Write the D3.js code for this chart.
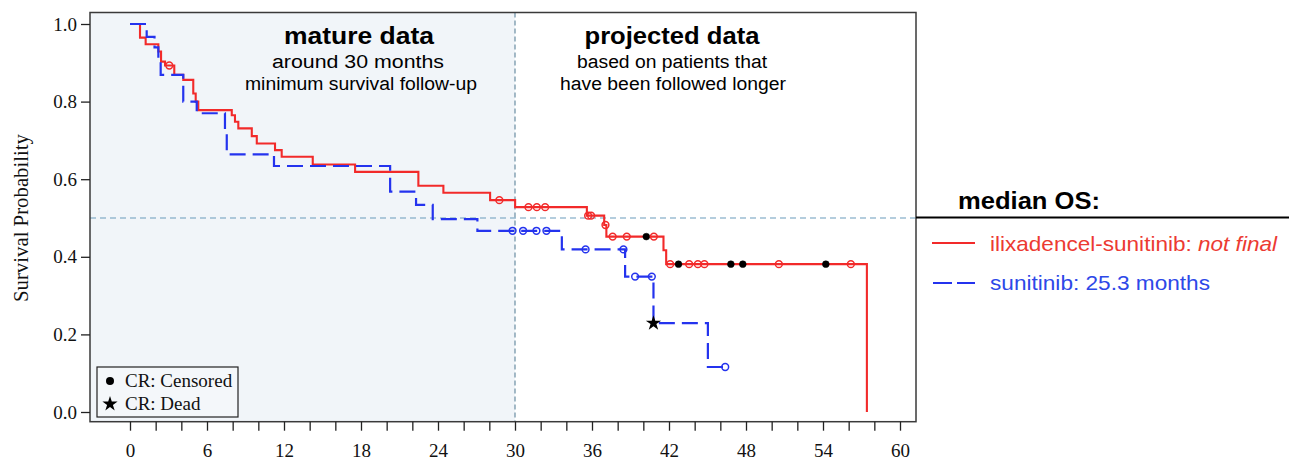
<!DOCTYPE html>
<html lang="en">
<head>
<meta charset="UTF-8"/>
<title>Survival curves</title>
<script src="https://d3js.org/d3.v7.min.js"></script>
<style>
    body { margin: 0; background: #fff; }
    .serif { font-family: "Liberation Serif", "Times New Roman", serif; }
    .sans { font-family: "Liberation Sans", Arial, sans-serif; }
</style>
</head>
<body>
<div id="chart"></div>
<script>
    // step curve: ilixadencel-sunitinib (red)
    var redTimes = [0, 0.78, 1.22, 2.21, 2.42, 2.73, 3.45, 4.15, 4.93, 5.12, 5.32, 7.93, 8.18, 8.44, 9.49, 9.88,
        11.3, 11.82, 14.24, 17.54, 22.47, 24.42, 28.06, 30.01, 35.6, 36.95, 37.12, 41.57, 41.78, 57.42];
    var redSurv = [1.0, 0.965, 0.948, 0.929, 0.903, 0.893, 0.869, 0.856, 0.821, 0.8, 0.778, 0.765, 0.748, 0.731, 0.711, 0.692,
        0.675, 0.658, 0.638, 0.619, 0.583, 0.565, 0.546, 0.528, 0.506, 0.482, 0.452, 0.417, 0.381, 0.0];

    // censored marks, red (1 = CR censored, filled dot)
    var redCensTimes = [3.06, 28.78, 31.05, 31.7, 32.35, 35.7, 35.93, 37.05, 37.61, 38.71, 40.23, 40.82,
        42.09, 42.74, 43.57, 44.25, 44.76, 46.82, 47.75, 50.56, 54.22, 56.17];
    var redCensSurv = [0.893, 0.546, 0.528, 0.528, 0.528, 0.506, 0.506, 0.482, 0.452, 0.452, 0.452, 0.452,
        0.381, 0.381, 0.381, 0.381, 0.381, 0.381, 0.381, 0.381, 0.381, 0.381];
    var redCensCR = [0, 0, 0, 0, 0, 0, 0, 0, 0, 0, 1, 0,
        0, 1, 0, 0, 0, 1, 1, 0, 1, 0];

    // step curve: sunitinib (blue)
    var blueTimes = [0, 1.3, 1.91, 2.21, 2.39, 4.15, 5.2, 7.4, 7.54, 11.22, 20.27, 22.29, 23.59, 27.07,
        33.65, 38.58, 40.79, 45.03, 46.38];
    var blueSurv = [1.0, 0.967, 0.94, 0.905, 0.869, 0.8, 0.77, 0.72, 0.664, 0.634, 0.568, 0.534, 0.497, 0.467,
        0.419, 0.349, 0.229, 0.116, 0.116];

    var blueCensTimes = [29.81, 30.63, 31.67, 32.45, 35.5, 38.45, 39.36, 40.66, 46.38];
    var blueCensSurv = [0.467, 0.467, 0.467, 0.467, 0.419, 0.419, 0.349, 0.349, 0.116];

    // CR death mark
    var deadTimes = [40.79];
    var deadSurv = [0.229];

    var xTicks = d3.range(0, 61, 2);
    var yTicks = [0, 0.2, 0.4, 0.6, 0.8, 1.0];

    var redColor = "#f22a2a";
    var blueColor = "#2433ee";

    var width = 1289, height = 461;
    var frame = {left: 90, right: 916, top: 12.5, bottom: 421.7};

    var x = d3.scaleLinear().domain([0, 60]).range([130, 900]);
    var y = d3.scaleLinear().domain([0, 1]).range([412, 24]);

    var svg = d3.select("#chart").append("svg").attr("width", width).attr("height", height);

    // shaded "mature data" region
    svg.append("rect")
        .attr("x", frame.left).attr("y", frame.top)
        .attr("width", x(30) - frame.left).attr("height", frame.bottom - frame.top)
        .attr("fill", "#f1f5f9");

    // reference lines
    svg.append("line")
        .attr("x1", x(30)).attr("x2", x(30)).attr("y1", frame.top).attr("y2", frame.bottom)
        .attr("stroke", "#6a8ea2").attr("stroke-width", 1.2).attr("stroke-dasharray", "5,3");
    svg.append("line")
        .attr("x1", frame.left).attr("x2", frame.right).attr("y1", y(0.5)).attr("y2", y(0.5))
        .attr("stroke", "#6a9cbc").attr("stroke-width", 1.2).attr("stroke-dasharray", "6,4");

    // curves
    var line = d3.line().curve(d3.curveStepAfter)
        .x(function (d) { return x(d[0]); })
        .y(function (d) { return y(d[1]); });

    svg.append("path")
        .datum(d3.zip(redTimes, redSurv))
        .attr("d", line).attr("fill", "none")
        .attr("stroke", redColor).attr("stroke-width", 2.1);

    svg.append("path")
        .datum(d3.zip(blueTimes, blueSurv))
        .attr("d", line).attr("fill", "none")
        .attr("stroke", blueColor).attr("stroke-width", 2.2)
        .attr("stroke-dasharray", "16,7");

    // censor marks
    svg.selectAll(".rc").data(d3.zip(redCensTimes, redCensSurv, redCensCR)).enter()
        .append("circle")
        .attr("cx", function (d) { return x(d[0]); })
        .attr("cy", function (d) { return y(d[1]); })
        .attr("r", 3.4)
        .attr("fill", function (d) { return d[2] ? "#000" : "none"; })
        .attr("stroke", function (d) { return d[2] ? "#000" : redColor; })
        .attr("stroke-width", function (d) { return d[2] ? 0.5 : 1.5; });

    svg.selectAll(".bc").data(d3.zip(blueCensTimes, blueCensSurv)).enter()
        .append("circle")
        .attr("cx", function (d) { return x(d[0]); })
        .attr("cy", function (d) { return y(d[1]); })
        .attr("r", 3.4)
        .attr("fill", "none")
        .attr("stroke", blueColor).attr("stroke-width", 1.5);

    var star = d3.symbol().type(d3.symbolStar).size(72);
    svg.selectAll(".dead").data(d3.zip(deadTimes, deadSurv)).enter()
        .append("path")
        .attr("d", star)
        .attr("transform", function (d) { return "translate(" + x(d[0]) + "," + y(d[1]) + ")"; })
        .attr("fill", "#000");

    // frame
    svg.append("rect")
        .attr("x", frame.left).attr("y", frame.top)
        .attr("width", frame.right - frame.left).attr("height", frame.bottom - frame.top)
        .attr("fill", "none").attr("stroke", "#3a3a3a").attr("stroke-width", 1.5);

    // axes
    var xAxis = d3.axisBottom(x).tickValues(xTicks).tickSize(9).tickPadding(13)
        .tickFormat(function (d) { return d % 6 === 0 ? d : ""; });
    var gx = svg.append("g").attr("transform", "translate(0," + frame.bottom + ")").call(xAxis);
    gx.select(".domain").remove();
    gx.selectAll("line").attr("stroke", "#222").attr("stroke-width", 1.3);
    gx.selectAll("text").attr("class", "serif").attr("font-size", 19).attr("fill", "#111");

    var yAxis = d3.axisLeft(y).tickValues(yTicks).tickSize(9).tickPadding(4).tickFormat(d3.format(".1f"));
    var gy = svg.append("g").attr("transform", "translate(" + frame.left + ",0)").call(yAxis);
    gy.select(".domain").remove();
    gy.selectAll("line").attr("stroke", "#222").attr("stroke-width", 1.3);
    gy.selectAll("text").attr("class", "serif").attr("font-size", 19).attr("fill", "#111");

    svg.append("text").attr("class", "serif")
        .attr("transform", "translate(28,218) rotate(-90)")
        .attr("text-anchor", "middle").attr("font-size", 21).attr("fill", "#111")
        .attr("textLength", 168).attr("lengthAdjust", "spacingAndGlyphs")
        .text("Survival Probability");

    // region annotations
    function label(txt, cx, by, size, len, bold) {
        svg.append("text").attr("class", "sans")
            .attr("x", cx).attr("y", by).attr("text-anchor", "middle")
            .attr("font-size", size).attr("font-weight", bold ? "bold" : "normal")
            .attr("textLength", len).attr("lengthAdjust", "spacingAndGlyphs")
            .attr("fill", "#000").text(txt);
    }
    label("mature data", 359, 44, 24, 150, true);
    label("around 30 months", 358, 68, 18, 172, false);
    label("minimum survival follow-up", 361, 90, 18, 232, false);
    label("projected data", 672, 44, 24, 175, true);
    label("based on patients that", 672, 68, 18, 190, false);
    label("have been followed longer", 673, 90, 18, 226, false);

    // CR legend box
    svg.append("rect").attr("x", 97).attr("y", 367).attr("width", 141).attr("height", 50)
        .attr("fill", "#f4f7fa").attr("stroke", "#222").attr("stroke-width", 1.2);
    svg.append("circle").attr("cx", 110).attr("cy", 381).attr("r", 4).attr("fill", "#000");
    svg.append("path").attr("d", star).attr("transform", "translate(110,404)").attr("fill", "#000");
    svg.append("text").attr("class", "serif").attr("x", 125).attr("y", 387)
        .attr("font-size", 19).attr("fill", "#111").text("CR: Censored");
    svg.append("text").attr("class", "serif").attr("x", 125).attr("y", 410)
        .attr("font-size", 19).attr("fill", "#111").text("CR: Dead");

    // median OS legend
    svg.append("line").attr("x1", frame.right).attr("x2", width).attr("y1", 217.5).attr("y2", 217.5)
        .attr("stroke", "#000").attr("stroke-width", 2);
    svg.append("text").attr("class", "sans").attr("x", 958).attr("y", 209)
        .attr("font-size", 24).attr("font-weight", "bold")
        .attr("textLength", 142).attr("lengthAdjust", "spacingAndGlyphs").text("median OS:");

    svg.append("line").attr("x1", 932).attr("x2", 975).attr("y1", 243).attr("y2", 243)
        .attr("stroke", redColor).attr("stroke-width", 2);
    var t1 = svg.append("text").attr("class", "sans").attr("x", 990).attr("y", 251)
        .attr("font-size", 21).attr("fill", "#ec3a32")
        .attr("textLength", 287).attr("lengthAdjust", "spacingAndGlyphs");
    t1.append("tspan").text("ilixadencel-sunitinib: ");
    t1.append("tspan").attr("font-style", "italic").text("not final");

    svg.append("line").attr("x1", 933).attr("x2", 975).attr("y1", 283).attr("y2", 283)
        .attr("stroke", blueColor).attr("stroke-width", 2).attr("stroke-dasharray", "19,5");
    svg.append("text").attr("class", "sans").attr("x", 990).attr("y", 290)
        .attr("font-size", 21).attr("fill", "#2d48e8")
        .attr("textLength", 220).attr("lengthAdjust", "spacingAndGlyphs")
        .text("sunitinib: 25.3 months");
</script>
</body>
</html>
